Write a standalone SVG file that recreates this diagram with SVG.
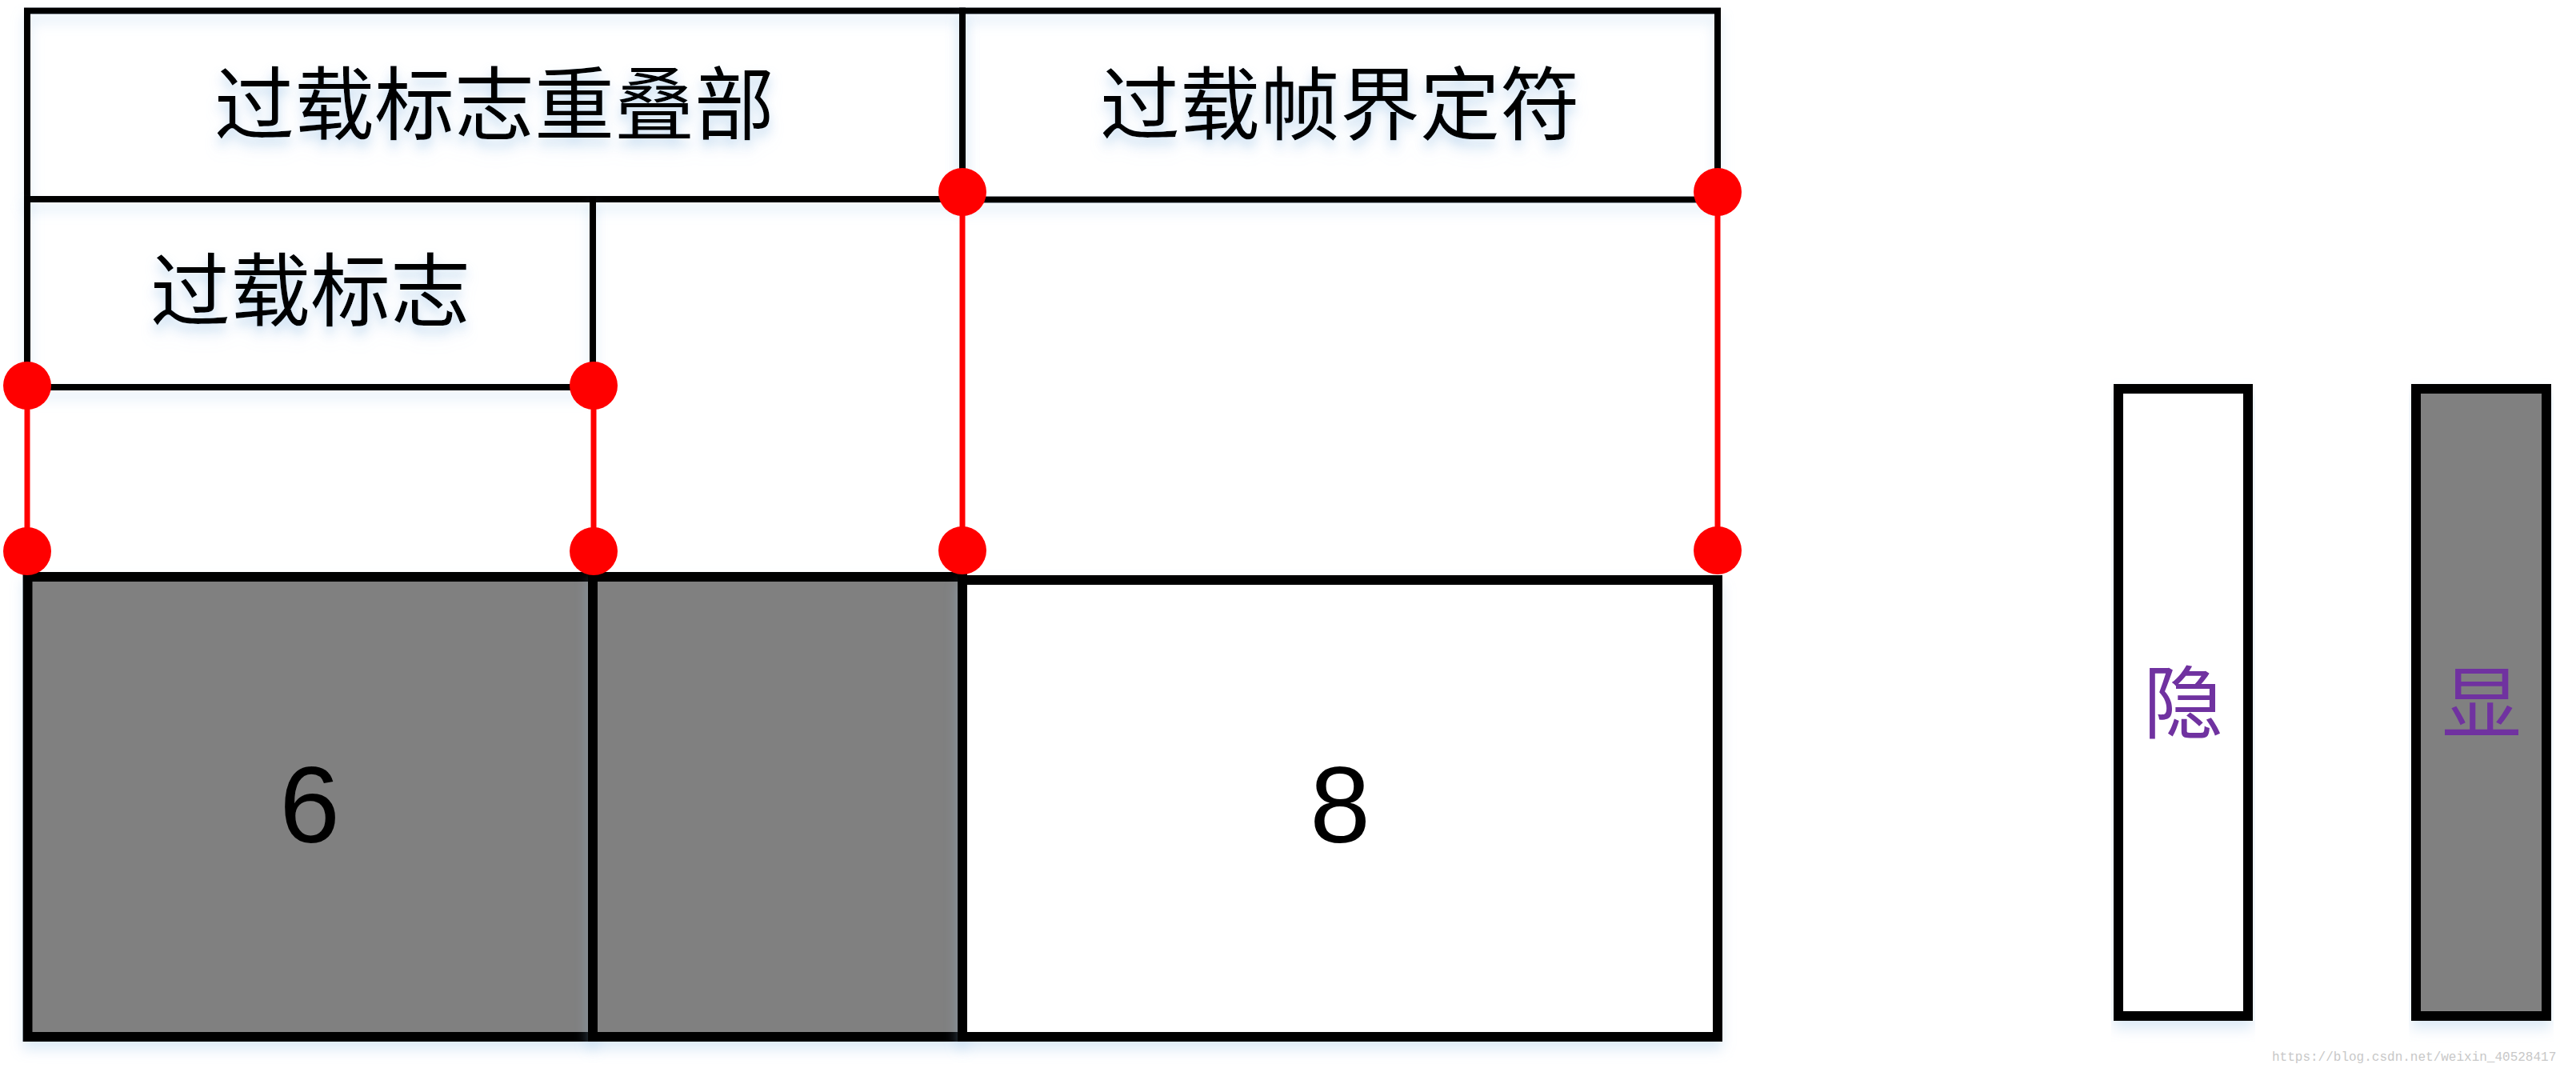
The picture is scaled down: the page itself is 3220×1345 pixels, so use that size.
<svg xmlns="http://www.w3.org/2000/svg" width="3220" height="1345" viewBox="0 0 3220 1345">
  <defs>
    <filter id="glow" x="-5%" y="-5%" width="110%" height="120%">
      <feDropShadow dx="0" dy="10" stdDeviation="8" flood-color="#9DC3E6" flood-opacity="0.35"/>
    </filter>
    <filter id="tglow" x="-5%" y="-10%" width="110%" height="140%">
      <feDropShadow dx="0" dy="8" stdDeviation="6" flood-color="#9DC3E6" flood-opacity="0.3"/>
    </filter>
  </defs>
  <style>
    .thin { fill: none; stroke: #000000; stroke-width: 8; stroke-linecap: square; }
    .thick { stroke: #000000; stroke-width: 12; }
    .gray { fill: #808080; }
    .white { fill: #FFFFFF; }
    .cjk { font-family: "Noto Sans CJK SC", "Noto Sans", sans-serif; font-size: 100px; fill: #000000; text-anchor: middle; }
    .num { font-family: "Liberation Sans", Arial, sans-serif; font-size: 136px; fill: #000000; text-anchor: middle; }
    .legend { font-family: "Noto Sans CJK SC", "Noto Sans", sans-serif; font-size: 100px; fill: #7030A0; text-anchor: middle; }
    .red { stroke: #FF0000; stroke-width: 7; fill: none; }
    .dot { fill: #FF0000; }
    .wm { font-family: "Liberation Mono", monospace; font-size: 16px; fill: #C8C8C8; }
  </style>

  <g id="overlap-part" filter="url(#glow)">
    <rect class="thin" x="34" y="13.5" width="1169" height="235.5" fill="#FFFFFF"/>
    <text class="cjk" x="618" y="167" filter="url(#tglow)">过载标志重叠部</text>
  </g>

  <g id="frame-delimiter" filter="url(#glow)">
    <rect class="thin" x="1203" y="13.5" width="944" height="236" fill="#FFFFFF"/>
    <text class="cjk" x="1675" y="167" filter="url(#tglow)">过载帧界定符</text>
  </g>

  <g id="overload-flag" filter="url(#glow)">
    <path class="thin" d="M34 249 V484 H741 V249"/>
    <text class="cjk" x="388" y="400" filter="url(#tglow)">过载标志</text>
  </g>

  <g id="bottom-left-6" filter="url(#glow)">
    <rect class="gray thick" x="34.5" y="721" width="706.5" height="575"/>
    <text class="num" x="387" y="1053">6</text>
  </g>

  <g id="bottom-middle" filter="url(#glow)">
    <rect class="gray thick" x="741" y="721" width="462" height="575"/>
  </g>

  <g id="bottom-right-8" filter="url(#glow)">
    <rect class="white thick" x="1203" y="725" width="944" height="571"/>
    <text class="num" x="1675" y="1053">8</text>
  </g>

  <g id="connectors">
    <line class="red" x1="34" y1="482" x2="34" y2="689"/>
    <line class="red" x1="742" y1="482" x2="742" y2="689"/>
    <line class="red" x1="1203" y1="240" x2="1203" y2="688"/>
    <line class="red" x1="2147" y1="240" x2="2147" y2="688"/>
    <circle class="dot" cx="34" cy="482" r="30"/>
    <circle class="dot" cx="742" cy="482" r="30"/>
    <circle class="dot" cx="34" cy="689" r="30"/>
    <circle class="dot" cx="742" cy="689" r="30"/>
    <circle class="dot" cx="1203" cy="240" r="30"/>
    <circle class="dot" cx="2147" cy="240" r="30"/>
    <circle class="dot" cx="1203" cy="688" r="30"/>
    <circle class="dot" cx="2147" cy="688" r="30"/>
  </g>

  <g id="legend-hidden" filter="url(#glow)">
    <rect class="white thick" x="2648" y="486" width="162" height="784"/>
    <text class="legend" x="2729" y="915">隐</text>
  </g>

  <g id="legend-shown" filter="url(#glow)">
    <rect class="gray thick" x="3020" y="486" width="163" height="784"/>
    <text class="legend" x="3102" y="915">显</text>
  </g>

  <text class="wm" x="2840" y="1326">https://blog.csdn.net/weixin_40528417</text>
</svg>
